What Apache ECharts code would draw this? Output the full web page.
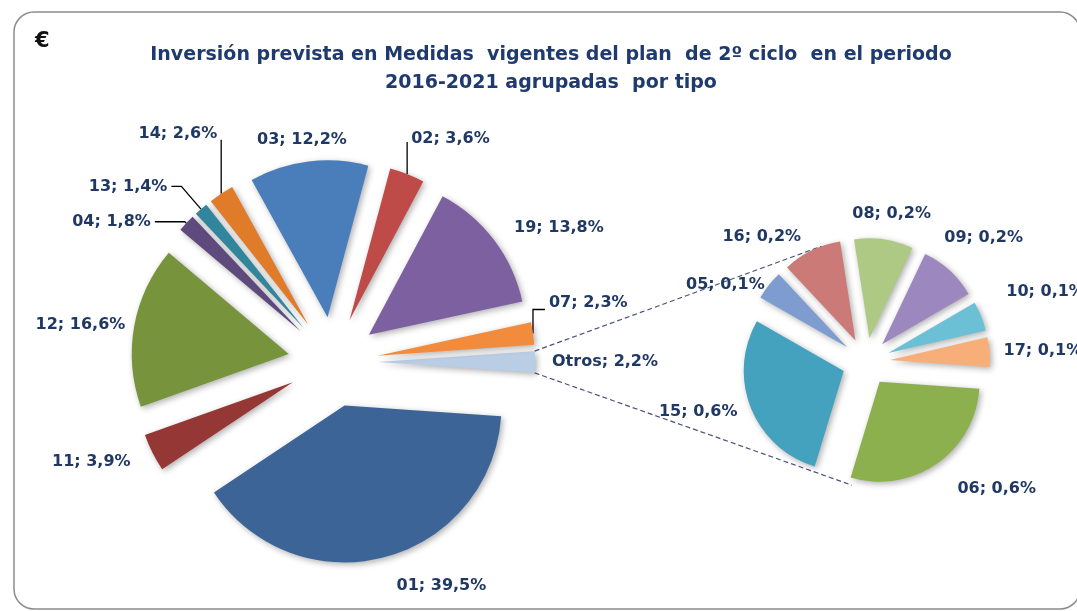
<!DOCTYPE html>
<html>
<head>
<meta charset="utf-8">
<script src="https://cdn.jsdelivr.net/npm/echarts@6/dist/echarts.min.js"></script>
<style>
  html, body { margin: 0; padding: 0; background: #ffffff; }
  #chart { width: 1077px; height: 611px; }
</style>
</head>
<body>
<div id="chart"></div>
<script>
// Investment share by measure type (% of total), main pie in clockwise order from "Otros"
const mainCodes  = ['Otros', '01', '11', '12', '04', '13', '14', '03', '02', '19', '07'];
const mainShares = [2.2, 39.5, 3.9, 16.6, 1.8, 1.4, 2.6, 12.2, 3.6, 13.8, 2.3];

// Breakdown of "Otros", clockwise order
const otherCodes  = ['06', '15', '05', '16', '08', '09', '10', '17'];
const otherShares = [0.6, 0.6, 0.1, 0.2, 0.2, 0.2, 0.1, 0.1];

const titleText = 'Inversión prevista en Medidas  vigentes del plan  de 2º ciclo  en el periodo\n2016-2021 agrupadas  por tipo';
const unitText = '€';

// ---- styling ----
const mainColors = {
  'Otros': '#B9CDE5', '01': '#3C6496', '11': '#953735', '12': '#77933C',
  '04': '#5F4A7E', '13': '#31859C', '14': '#E07B2A', '03': '#4A7EBB',
  '02': '#BE4B48', '19': '#7D60A0', '07': '#F28C3C'
};
const otherColors = {
  '06': '#8DB04E', '15': '#45A2BE', '05': '#7E9CD0', '16': '#CC7A78',
  '08': '#AEC984', '09': '#9C88BE', '10': '#6CC0D6', '17': '#F7AE78'
};

// label placement per slice: radial length, horizontal length, leader line, alignment;
// "rise"/"run" turn the leader into a vertical elbow going up from the slice edge
const mainLabelTune = {
  'Otros': { len: 13, len2: 0 },
  '01': { len: 30, len2: 0 },
  '11': { len: 20, len2: 0 },
  '12': { len: 5, len2: 0 },
  '04': { len: 2, len2: 30, line: true },
  '13': { len: 30, len2: 10, line: true },
  '14': { len: 20, len2: 0, line: true, rise: 54, run: 0, lift: 6 },
  '03': { len: 22, len2: 0, align: 'center' },
  '02': { len: 20, len2: 0, line: true, rise: 32, run: 0, lift: 3 },
  '19': { len: 20, len2: 0 },
  '07': { len: 20, len2: 0, line: true, rise: 24, run: 12, lift: 7 }
};
const otherLabelTune = {
  '06': { len: 30 },
  '15': { len: 10 },
  '05': { len: 0 },
  '16': { len: 15 },
  '08': { len: 26, align: 'center' },
  '09': { len: 44, align: 'center' },
  '10': { len: 65, align: 'center' },
  '17': { len: 10 }
};

const mainCenter = [333, 362], mainRadius = 157, mainOffset = 45;
const otherCenter = [866, 362], otherRadius = 100, otherOffset = 24;
const otherStart = -4;
// angles on the breakdown pie where the connector lines end
const connectorEndAngles = [111, -96.5];

const labelColor = '#1F3864';
const titleColor = '#1F3A6E';
const fontFamily = "'DejaVu Sans', 'Liberation Sans', sans-serif";

const fmt = v => v.toFixed(1).replace('.', ',') + '%';

const mainTotal = mainShares.reduce((a, b) => a + b, 0);
// "Otros" sits centred on the horizontal, facing the breakdown pie
const otrosHalf = 360 * mainShares[0] / mainTotal / 2;
const mainStart = otrosHalf;

function buildData(codes, values, colors, tune) {
  return codes.map((c, i) => {
    const t = tune[c] || {};
    return {
      name: c,
      value: values[i],
      selected: true,
      itemStyle: { color: colors[c] },
      labelLine: { show: !!t.line, length: t.len || 0, length2: t.len2 || 0 }
    };
  });
}

function makeLayout(codes, tune) {
  return function (p) {
    const t = tune[codes[p.dataIndex]] || {};
    const out = {};
    if (t.align) out.align = t.align;
    const pts = p.labelLinePoints;
    if (t.rise != null && pts && pts.length === 3) {
      const p0 = pts[0];
      const side = pts[2][0] < p0[0] ? -1 : 1;
      const q1 = [p0[0], p0[1] - t.rise];
      const q2 = [p0[0] + side * t.run, q1[1]];
      out.labelLinePoints = [p0, q1, q2];
      out.dx = q2[0] - pts[2][0];
      out.dy = q2[1] - pts[2][1] - (t.lift || 0);
    }
    return out;
  };
}

const sliceShadow = {
  shadowBlur: 6,
  shadowColor: 'rgba(0,0,0,0.32)',
  shadowOffsetX: 2,
  shadowOffsetY: 2,
  borderWidth: 0
};

const baseLabel = {
  show: true,
  position: 'outside',
  formatter: p => p.name + '; ' + fmt(p.value),
  color: labelColor,
  fontFamily: fontFamily,
  fontWeight: 'bold',
  fontSize: 16,
  distanceToLabelLine: 4
};

// connector lines from the "Otros" slice to the breakdown pie
function toXY(center, dist, deg) {
  const a = deg * Math.PI / 180;
  return [center[0] + dist * Math.cos(a), center[1] - dist * Math.sin(a)];
}
const otrosCenter = [mainCenter[0] + mainOffset, mainCenter[1]];
const connStarts = [toXY(otrosCenter, mainRadius, otrosHalf), toXY(otrosCenter, mainRadius, -otrosHalf)];
const connEnds = connectorEndAngles.map(a => toXY(otherCenter, otherRadius + otherOffset, a));

const chart = echarts.init(document.getElementById('chart'), null, { renderer: 'canvas' });

chart.setOption({
  backgroundColor: '#ffffff',
  animation: false,
  title: [
    {
      text: titleText,
      left: 546,
      top: 36,
      textAlign: 'center',
      textStyle: {
        color: titleColor,
        fontFamily: fontFamily,
        fontWeight: 'bold',
        fontSize: 19,
        lineHeight: 28
      }
    },
    {
      text: unitText,
      left: 30,
      top: 26,
      textStyle: { color: '#111111', fontFamily: fontFamily, fontWeight: 'bold', fontSize: 21 }
    }
  ],
  graphic: [
    {
      type: 'rect',
      shape: { x: 14, y: 12, width: 1066, height: 597, r: 20 },
      style: { fill: 'none', stroke: '#8c8c8c', lineWidth: 1.5 },
      silent: true,
      z: -1
    },
    ...connStarts.map((s, i) => ({
      type: 'line',
      shape: { x1: s[0], y1: s[1], x2: connEnds[i][0], y2: connEnds[i][1] },
      style: { stroke: '#4a4f7a', lineWidth: 1.2, lineDash: [5, 3] },
      silent: true,
      z: 1
    }))
  ],
  series: [
    {
      type: 'pie',
      center: mainCenter,
      radius: mainRadius,
      startAngle: mainStart,
      clockwise: true,
      selectedMode: 'multiple',
      selectedOffset: mainOffset,
      avoidLabelOverlap: false,
      emphasis: { disabled: true },
      itemStyle: sliceShadow,
      label: baseLabel,
      labelLine: { lineStyle: { color: '#000000', width: 1.3 } },
      labelLayout: makeLayout(mainCodes, mainLabelTune),
      data: buildData(mainCodes, mainShares, mainColors, mainLabelTune)
    },
    {
      type: 'pie',
      center: otherCenter,
      radius: otherRadius,
      startAngle: otherStart,
      clockwise: true,
      selectedMode: 'multiple',
      selectedOffset: otherOffset,
      avoidLabelOverlap: false,
      emphasis: { disabled: true },
      itemStyle: sliceShadow,
      label: baseLabel,
      labelLine: { lineStyle: { color: '#000000', width: 1.3 } },
      labelLayout: makeLayout(otherCodes, otherLabelTune),
      data: buildData(otherCodes, otherShares, otherColors, otherLabelTune)
    }
  ]
});
</script>
</body>
</html>
